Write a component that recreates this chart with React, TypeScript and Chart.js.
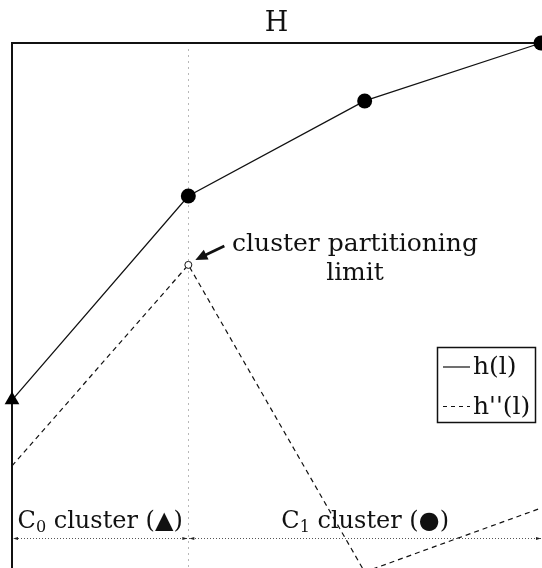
import { useEffect, useRef } from "react";
import { Chart, registerables } from "chart.js";

Chart.register(...registerables);

// Hierarchy levels along the horizontal axis
const levels = [0, 1, 2, 3];
// h(l): cumulative quality per level
const hValues = [27.9, 69.1, 88.3, 100];
// h''(l): second-order measure per level
const hSecondValues = [14.6, 55.2, -6.8, 6.1];
// Level at which the clusters are split
const partitionLevel = 1;
// Value of the separating baseline for the cluster spans
const clusterBaseline = 0;

const axisTitle = "H";
const legendLabels = ["h(l)", "h''(l)"];
const annotationLines = ["cluster partitioning", "limit"];
const clusterNames = [
  { base: "C", sub: "0", rest: " cluster (\u25B2)" },
  { base: "C", sub: "1", rest: " cluster (\u25CF)" },
];

const FONT = '"DejaVu Serif", serif';

function arrowHead(ctx: CanvasRenderingContext2D, x: number, y: number, dir: number, len: number, half: number) {
  ctx.beginPath();
  ctx.moveTo(x, y);
  ctx.lineTo(x - dir * len, y - half);
  ctx.lineTo(x - dir * len, y + half);
  ctx.closePath();
  ctx.fill();
}

const decorations = {
  id: "decorations",
  beforeDatasetsDraw(chart: any) {
    const { ctx, chartArea, scales } = chart;
    const xs = scales.x;
    const ys = scales.y;
    const { left, top } = chartArea;
    const right = chart.width;
    const px = xs.getPixelForValue(partitionLevel);
    const py = ys.getPixelForValue(clusterBaseline);

    ctx.save();
    // vertical partition guide
    ctx.strokeStyle = "#b8b8b8";
    ctx.lineWidth = 1;
    ctx.setLineDash([2, 4]);
    ctx.beginPath();
    ctx.moveTo(Math.round(px) + 0.5, top + 6);
    ctx.lineTo(Math.round(px) + 0.5, chart.height);
    ctx.stroke();

    // horizontal cluster span line
    ctx.strokeStyle = "#555";
    ctx.setLineDash([1, 2]);
    ctx.beginPath();
    ctx.moveTo(left, Math.round(py) + 0.5);
    ctx.lineTo(right, Math.round(py) + 0.5);
    ctx.stroke();
    ctx.setLineDash([]);
    ctx.fillStyle = "#222";
    arrowHead(ctx, left + 1, Math.round(py) + 0.5, -1, 5, 1.5);
    arrowHead(ctx, px - 1, Math.round(py) + 0.5, 1, 5, 1.5);
    arrowHead(ctx, px + 1, Math.round(py) + 0.5, -1, 5, 1.5);
    arrowHead(ctx, right - 1, Math.round(py) + 0.5, 1, 5, 1.5);

    // axes
    ctx.strokeStyle = "#111";
    ctx.lineWidth = 2;
    ctx.beginPath();
    ctx.moveTo(left, chart.height);
    ctx.lineTo(left, top);
    ctx.lineTo(right, top);
    ctx.stroke();

    // axis title
    ctx.fillStyle = "#111";
    ctx.font = `27px ${FONT}`;
    ctx.textAlign = "center";
    ctx.textBaseline = "alphabetic";
    ctx.fillText(axisTitle, (left + chartArea.right) / 2, 31);
    ctx.restore();
  },
  afterDatasetsDraw(chart: any) {
    const { ctx, chartArea, scales } = chart;
    const xs = scales.x;
    const ys = scales.y;
    const { left } = chartArea;
    const right = chart.width;
    const px = xs.getPixelForValue(partitionLevel);
    const py = ys.getPixelForValue(clusterBaseline);
    const limitY = ys.getPixelForValue(hSecondValues[partitionLevel]);

    ctx.save();
    ctx.fillStyle = "#111";
    ctx.strokeStyle = "#111";

    // annotation at the partitioning limit
    ctx.font = `25px ${FONT}`;
    ctx.textAlign = "center";
    ctx.textBaseline = "alphabetic";
    ctx.fillText(annotationLines[0], 355, limitY - 14);
    ctx.fillText(annotationLines[1], 355, limitY + 15);

    const tipX = px + 7;
    const tipY = limitY - 5;
    const tailX = px + 36;
    const tailY = limitY - 19;
    const ang = Math.atan2(tipY - tailY, tipX - tailX);
    ctx.lineWidth = 2.8;
    ctx.beginPath();
    ctx.moveTo(tailX, tailY);
    ctx.lineTo(tipX - Math.cos(ang) * 6, tipY - Math.sin(ang) * 6);
    ctx.stroke();
    ctx.beginPath();
    ctx.moveTo(tipX, tipY);
    ctx.lineTo(tipX - Math.cos(ang) * 12 - Math.sin(ang) * 5.5, tipY - Math.sin(ang) * 12 + Math.cos(ang) * 5.5);
    ctx.lineTo(tipX - Math.cos(ang) * 12 + Math.sin(ang) * 5.5, tipY - Math.sin(ang) * 12 - Math.cos(ang) * 5.5);
    ctx.closePath();
    ctx.fill();

    // cluster span labels
    const spans = [
      [left, px],
      [px, right],
    ];
    ctx.textAlign = "left";
    clusterNames.forEach((c, i) => {
      ctx.font = `24px ${FONT}`;
      const wBase = ctx.measureText(c.base).width;
      const wRest = ctx.measureText(c.rest).width;
      ctx.font = `16px ${FONT}`;
      const wSub = ctx.measureText(c.sub).width;
      const total = wBase + wSub + wRest;
      let x = (spans[i][0] + spans[i][1]) / 2 - total / 2;
      const baseY = py - 10;
      ctx.font = `24px ${FONT}`;
      ctx.fillText(c.base, x, baseY);
      x += wBase;
      ctx.font = `16px ${FONT}`;
      ctx.fillText(c.sub, x, baseY + 4);
      x += wSub;
      ctx.font = `24px ${FONT}`;
      ctx.fillText(c.rest, x, baseY);
    });

    // legend
    const bx = 437.5;
    const by = 347.5;
    const bw = 98;
    const bh = 75;
    ctx.fillStyle = "#fff";
    ctx.fillRect(bx, by, bw, bh);
    ctx.lineWidth = 1.5;
    ctx.strokeStyle = "#111";
    ctx.strokeRect(bx, by, bw, bh);
    ctx.lineWidth = 1.2;
    ctx.beginPath();
    ctx.moveTo(443, 367);
    ctx.lineTo(470, 367);
    ctx.stroke();
    ctx.setLineDash([4, 4]);
    ctx.beginPath();
    ctx.moveTo(443, 406.5);
    ctx.lineTo(470, 406.5);
    ctx.stroke();
    ctx.setLineDash([]);
    ctx.fillStyle = "#111";
    ctx.font = `25px ${FONT}`;
    ctx.textAlign = "left";
    ctx.fillText(legendLabels[0], 473, 374);
    ctx.fillText(legendLabels[1], 473, 414);
    ctx.restore();
  },
};

export default function App() {
  const canvasRef = useRef<HTMLCanvasElement | null>(null);

  useEffect(() => {
    const canvas = canvasRef.current;
    if (!canvas) return;
    const chart = new Chart(canvas, {
      type: "line",
      data: {
        datasets: [
          {
            label: legendLabels[0],
            data: levels.map((l, i) => ({ x: l, y: hValues[i] })),
            borderColor: "#111",
            borderWidth: 1.3,
            pointStyle: levels.map((l) => (l === 0 ? "triangle" : "circle")) as any,
            pointRadius: levels.map((l) => (l === 0 ? 8.5 : 7.5)),
            pointBackgroundColor: "#000",
            pointBorderColor: "#000",
            pointBorderWidth: 0,
            clip: false as any,
          },
          {
            label: legendLabels[1],
            data: levels.map((l, i) => ({ x: l, y: hSecondValues[i] })),
            borderColor: "#111",
            borderWidth: 1.2,
            borderDash: [5, 4],
            pointStyle: "circle",
            pointRadius: levels.map((l) => (l === partitionLevel ? 3.5 : 0)),
            pointBackgroundColor: "#fff",
            pointBorderColor: "#111",
            pointBorderWidth: 1,
            clip: false as any,
          },
        ],
      },
      options: {
        animation: false,
        responsive: true,
        maintainAspectRatio: false,
        layout: { autoPadding: false, padding: { left: 12, top: 43, right: 1, bottom: 0 } },
        plugins: {
          legend: { display: false },
          tooltip: { enabled: false },
        },
        scales: {
          x: { type: "linear", min: 0, max: 3, display: false },
          y: { type: "linear", min: -6, max: 100, display: false },
        },
      },
      plugins: [decorations],
    });
    return () => chart.destroy();
  }, []);

  return (
    <div style={{ position: "fixed", left: 0, top: 0, width: 542, height: 568, background: "#fff" }}>
      <canvas ref={canvasRef} />
    </div>
  );
}
